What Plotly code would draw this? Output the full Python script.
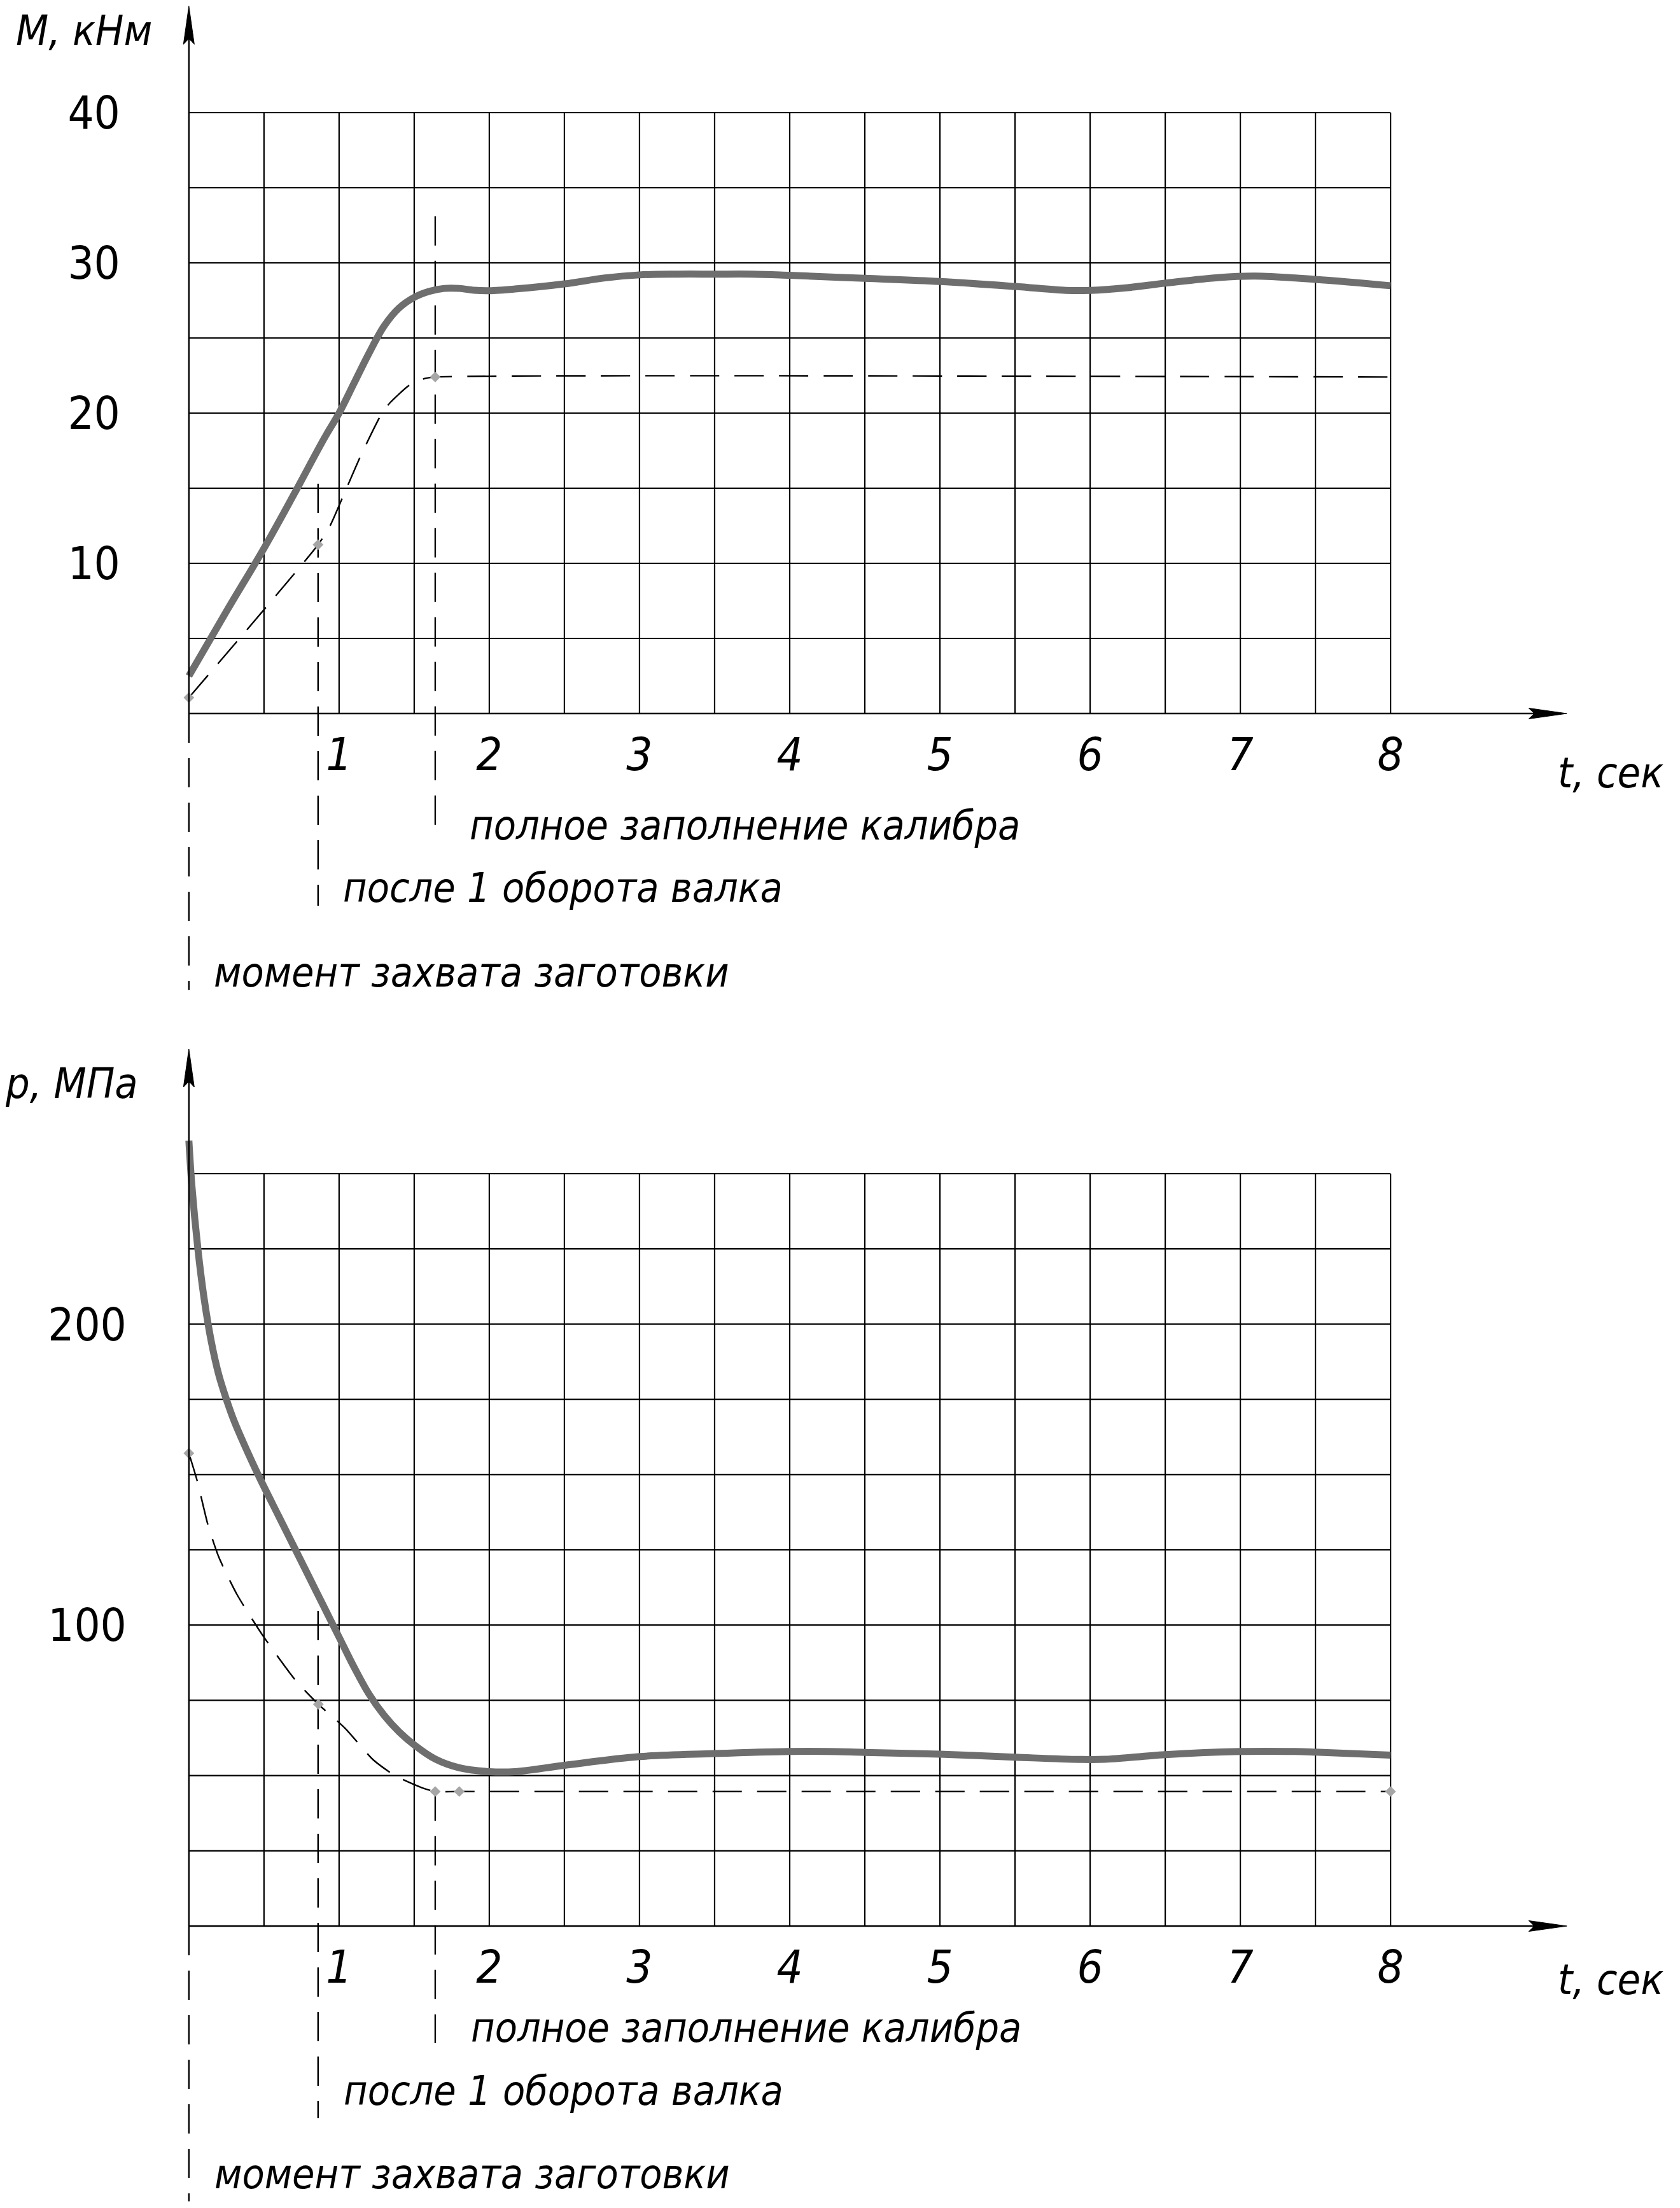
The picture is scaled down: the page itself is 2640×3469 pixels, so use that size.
import plotly.graph_objects as go

# ---------------- data ----------------
# upper chart: rolling torque M, kNm vs time t, s
t_torque = [0, 0.25, 0.5, 0.7, 0.9, 1.0, 1.1, 1.2, 1.3, 1.4, 1.5, 1.6, 1.7, 1.8, 1.9, 2.0,
            2.17, 2.5, 2.77, 3.0, 3.25, 3.5, 3.75, 4.0, 4.5, 5.0, 5.5, 5.84, 6.0, 6.25, 6.5,
            6.86, 7.1, 7.5, 8.0]
M_actual = [2.5, 6.8, 11.0, 14.6, 18.3, 20.0, 22.0, 24.0, 25.8, 27.0, 27.7, 28.1, 28.3, 28.3, 28.18, 28.15,
            28.26, 28.6, 29.0, 29.2, 29.25, 29.25, 29.25, 29.17, 28.97, 28.76, 28.43, 28.17, 28.17, 28.35, 28.65,
            29.03, 29.12, 28.9, 28.48]
t_torque_calc = [0, 0.86, 0.94, 1.024, 1.146, 1.28, 1.34, 1.473, 1.57, 1.64, 8.0]
M_calc = [1.06, 11.24, 12.5, 14.4, 17.2, 19.9, 20.7, 21.9, 22.3, 22.4, 22.4]
t_torque_pts = [0, 0.86, 1.64]
M_pts = [1.06, 11.24, 22.4]

# lower chart: contact pressure p, MPa vs time t, s
t_press = [0, 0.02, 0.06, 0.1, 0.15, 0.2, 0.26, 0.3, 0.4, 0.48, 0.6, 0.7, 0.8, 0.9, 1.0, 1.1,
           1.2, 1.3, 1.4, 1.5, 1.64, 1.8, 2.0, 2.17, 2.5, 3.0, 3.5, 4.0, 4.25, 4.5, 5.0, 5.5, 5.93,
           6.1, 6.5, 7.0, 7.36, 7.5, 8.0]
p_actual = [261, 246, 225, 209, 194, 183, 173.5, 168, 156.5, 148, 136, 126, 116, 106, 96, 86,
            77, 70, 64.5, 60.2, 55.5, 52.6, 51.3, 51.3, 53.4, 56.3, 57.3, 58.0, 58.0, 57.7, 57.1, 56.1, 55.35,
            55.4, 56.96, 58.0, 58.0, 57.8, 56.8]
t_press_calc = [0, 0.055, 0.127, 0.2, 0.32, 0.49, 0.714, 0.862, 1.04, 1.228, 1.375, 1.55, 1.64, 1.8, 8.0]
p_calc = [157.1, 148, 133.3, 122.5, 110.2, 96.7, 81.4, 73.7, 65.7, 55.2, 49.9, 46.0, 44.7, 44.7, 44.7]
t_press_pts = [0, 0.862, 1.64, 1.8, 8.0]
p_pts = [157.1, 73.7, 44.7, 44.7, 44.7]

# process events (vertical dashed markers) and their captions
event_t = [0, 0.86, 1.64]
event_labels = ["момент захвата заготовки", "после 1 оборота валка", "полное заполнение калибра"]
top_event_from = [0, 15.3, 33.1]
top_event_to = [-18.4, -12.8, -7.75]
bot_event_from = [0, 104.7, 44.7]
bot_event_to = [-91.5, -63.9, -38.9]
top_label_t = [0.157, 1.017, 1.86]
top_label_y = [-17.25, -11.6, -7.46]
bot_label_t = [0.161, 1.021, 1.869]
bot_label_y = [-82.5, -54.8, -33.8]

x_ticks = [1, 2, 3, 4, 5, 6, 7, 8]
x_ticktext = ["1", "2", "3", "4", "5", "6", "7", "8"]
M_ticks = [10, 20, 30, 40]
p_ticks = [100, 200]
t_max, t_step = 8, 0.5
M_max, M_step = 40, 5
p_max, p_step = 250, 25

# ---------------- layout geometry ----------------
OFF = 8                      # default page body margin
W, H = 2640 - 2 * OFF, 3469 - 2 * OFF
X_RANGE = [-0.3, 9.3]
PX_PER_T = 236.0
T0_PX = 297 - OFF
L_MARGIN = T0_PX + X_RANGE[0] * PX_PER_T
PLOT_W = (X_RANGE[1] - X_RANGE[0]) * PX_PER_T
R_MARGIN = W - L_MARGIN - PLOT_W

TOP_ZERO_PX, TOP_PX_PER = 1121.0 - OFF, 23.6
BOT_ZERO_PX, BOT_PX_PER = 3026.0 - OFF, 4.728
TOP_DOM_PX = (0, 1572)
BOT_DOM_PX = (1592, H)
top_range = [(TOP_ZERO_PX - TOP_DOM_PX[1]) / TOP_PX_PER, (TOP_ZERO_PX - TOP_DOM_PX[0]) / TOP_PX_PER]
bot_range = [(BOT_ZERO_PX - BOT_DOM_PX[1]) / BOT_PX_PER, (BOT_ZERO_PX - BOT_DOM_PX[0]) / BOT_PX_PER]


def paper_x(ref_px):
    return (ref_px - OFF - L_MARGIN) / PLOT_W


FONT = "Liberation Sans Narrow, DejaVu Sans Condensed, Liberation Sans, sans-serif"
GRID_W = 2.2
AXIS_W = 2.4
DASH = "46px,24px"
CURVE_COLOR = "#6e6e6e"
MARK_COLOR = "#a6a6a6"
TEXT_SIZE = 64
TICK_SIZE = 72
TITLE_SIZE = 66

fig = go.Figure()


def grid(xa, ya, ymax, ystep):
    xs, ys = [], []
    n = int(round(t_max / t_step))
    for i in range(1, n + 1):
        x = i * t_step
        xs += [x, x, None]
        ys += [0, ymax, None]
    m = int(round(ymax / ystep))
    for j in range(1, m + 1):
        y = j * ystep
        xs += [0, t_max, None]
        ys += [y, y, None]
    fig.add_trace(go.Scatter(x=xs, y=ys, mode="lines", xaxis=xa, yaxis=ya,
                             line=dict(color="black", width=GRID_W),
                             hoverinfo="skip", showlegend=False))


def axes_arrows(xa, ya, px_per_y, y_tip):
    x_tip = (2462 - 297) / PX_PER_T
    ah_len_px, ah_hw_px = 60, 8.5
    yl = ah_len_px / px_per_y
    yw = ah_hw_px / px_per_y
    xl = ah_len_px / PX_PER_T
    xw = ah_hw_px / PX_PER_T
    fig.add_trace(go.Scatter(x=[0, x_tip - xl * 0.8], y=[0, 0], mode="lines",
                             xaxis=xa, yaxis=ya, line=dict(color="black", width=AXIS_W),
                             hoverinfo="skip", showlegend=False))
    fig.add_trace(go.Scatter(x=[0, 0], y=[0, y_tip - yl * 0.8], mode="lines",
                             xaxis=xa, yaxis=ya, line=dict(color="black", width=AXIS_W),
                             hoverinfo="skip", showlegend=False))
    fig.add_shape(type="path", xref=xa, yref=ya,
                  path=f"M {-xw},{y_tip - yl} L 0,{y_tip} L {xw},{y_tip - yl} L 0,{y_tip - yl * 0.85} Z",
                  fillcolor="black", line=dict(color="black", width=1))
    fig.add_shape(type="path", xref=xa, yref=ya,
                  path=f"M {x_tip - xl},{-yw} L {x_tip},0 L {x_tip - xl},{yw} L {x_tip - xl * 0.85},0 Z",
                  fillcolor="black", line=dict(color="black", width=1))


def events(xa, ya, y_from, y_to, lab_t, lab_y):
    for tt, a, b in zip(event_t, y_from, y_to):
        fig.add_trace(go.Scatter(x=[tt, tt], y=[a, b], mode="lines", xaxis=xa, yaxis=ya,
                                 line=dict(color="black", width=2.4, dash=DASH),
                                 hoverinfo="skip", showlegend=False))
    for txt, lt, ly in zip(event_labels, lab_t, lab_y):
        fig.add_annotation(x=lt, y=ly, xref=xa, yref=ya, text=txt, showarrow=False,
                           xanchor="left", yanchor="middle",
                           font=dict(family=FONT, size=TEXT_SIZE, color="black", style="italic"))


def curves(xa, ya, tc, yc, ta, ya_vals, tp, yp):
    fig.add_trace(go.Scatter(x=tc, y=yc, mode="lines", xaxis=xa, yaxis=ya,
                             line=dict(color="black", width=2.4, dash=DASH, shape="spline", smoothing=0.6),
                             hoverinfo="skip", showlegend=False))
    fig.add_trace(go.Scatter(x=ta, y=ya_vals, mode="lines", xaxis=xa, yaxis=ya,
                             line=dict(color=CURVE_COLOR, width=11, shape="spline", smoothing=1.0),
                             hoverinfo="skip", showlegend=False))
    fig.add_trace(go.Scatter(x=tp, y=yp, mode="markers", xaxis=xa, yaxis=ya,
                             marker=dict(symbol="diamond", size=13, color=MARK_COLOR),
                             hoverinfo="skip", showlegend=False))


# ---- upper chart ----
grid("x", "y", M_max, M_step)
events("x", "y", top_event_from, top_event_to, top_label_t, top_label_y)
curves("x", "y", t_torque_calc, M_calc, t_torque, M_actual, t_torque_pts, M_pts)
axes_arrows("x", "y", TOP_PX_PER, (TOP_ZERO_PX - 1.5) / TOP_PX_PER)

# ---- lower chart ----
grid("x2", "y2", p_max, p_step)
events("x2", "y2", bot_event_from, bot_event_to, bot_label_t, bot_label_y)
curves("x2", "y2", t_press_calc, p_calc, t_press, p_actual, t_press_pts, p_pts)
axes_arrows("x2", "y2", BOT_PX_PER, (3026 - 1648) / BOT_PX_PER)

# axis titles
title_font = dict(family=FONT, size=TITLE_SIZE, color="black", style="italic")
fig.add_annotation(x=paper_x(23), y=45.44, xref="paper", yref="y", text="M, кНм",
                   showarrow=False, xanchor="left", yanchor="middle", font=title_font)
fig.add_annotation(x=paper_x(6), y=280.0, xref="paper", yref="y2", text="p, МПа",
                   showarrow=False, xanchor="left", yanchor="middle", font=title_font)
fig.add_annotation(x=paper_x(2446), y=-3.98, xref="paper", yref="y", text="t, сек",
                   showarrow=False, xanchor="left", yanchor="middle", font=title_font)
fig.add_annotation(x=paper_x(2446), y=-17.8, xref="paper", yref="y2", text="t, сек",
                   showarrow=False, xanchor="left", yanchor="middle", font=title_font)

y_pos = (T0_PX - L_MARGIN) / PLOT_W
xtick_font = dict(family=FONT, size=TICK_SIZE, color="black", style="italic")
ytick_font = dict(family=FONT, size=TICK_SIZE, color="black")
common_x = dict(range=X_RANGE, domain=[0, 1], anchor="free", showgrid=False, zeroline=False,
                showline=False, ticks="", tickvals=x_ticks, ticktext=x_ticktext,
                tickfont=xtick_font, ticklabelstandoff=16, fixedrange=True)
fig.update_layout(
    width=W, height=H,
    margin=dict(l=L_MARGIN, r=R_MARGIN, t=0, b=0, pad=0),
    paper_bgcolor="white", plot_bgcolor="white",
    showlegend=False,
    xaxis=dict(**common_x, position=1 - TOP_ZERO_PX / H),
    xaxis2=dict(**common_x, position=1 - BOT_ZERO_PX / H),
    yaxis=dict(range=top_range, domain=[1 - TOP_DOM_PX[1] / H, 1], anchor="free", position=y_pos,
               showgrid=False, zeroline=False, showline=False, ticks="", tickvals=M_ticks,
               tickfont=ytick_font, ticklabelstandoff=108, fixedrange=True),
    yaxis2=dict(range=bot_range, domain=[0, 1 - BOT_DOM_PX[0] / H], anchor="free", position=y_pos,
                showgrid=False, zeroline=False, showline=False, ticks="", tickvals=p_ticks,
                tickfont=ytick_font, ticklabelstandoff=98, fixedrange=True),
)

fig.write_html("out.html")
